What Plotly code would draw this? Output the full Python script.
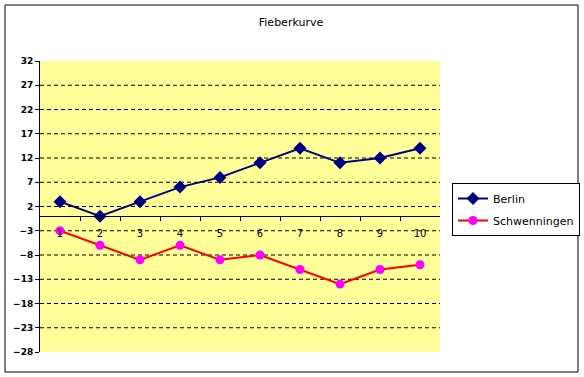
import plotly.graph_objects as go

days = [1, 2, 3, 4, 5, 6, 7, 8, 9, 10]
berlin = [3, 0, 3, 6, 8, 11, 14, 11, 12, 14]
schwenningen = [-3, -6, -9, -6, -9, -8, -11, -14, -11, -10]
y_ticks = [-28, -23, -18, -13, -8, -3, 2, 7, 12, 17, 22, 27, 32]
title = "Fieberkurve"

W, H = 584, 377
L, R, T, B = 40, 144, 61, 25
pw, ph = W - L - R, H - T - B
ymin, ymax = y_ticks[0], y_ticks[-1]

fig = go.Figure()
fig.add_trace(go.Scatter(
    x=days, y=berlin, name="Berlin", mode="lines+markers", legendgroup="a",
    line=dict(color="#000080", width=2),
    marker=dict(symbol="diamond", size=10, color="#000080"),
))
fig.add_trace(go.Scatter(
    x=days, y=schwenningen, name="Schwenningen", mode="lines+markers", legendgroup="b",
    line=dict(color="#FF0000", width=2),
    marker=dict(symbol="circle", size=9, color="#FF00FF"),
))

shapes = []
for v in y_ticks[1:-1]:
    shapes.append(dict(type="line", xref="paper", yref="y", x0=0, x1=1, y0=v, y1=v,
                       line=dict(color="black", width=1, dash="4px,3px"), layer="below"))
# outer chart border
shapes.append(dict(type="rect", xref="paper", yref="paper",
                   x0=(5 - L) / pw, x1=(578 - L) / pw,
                   y0=(H - B - 372) / ph, y1=(H - B - 5) / ph,
                   line=dict(color="black", width=1), fillcolor="rgba(0,0,0,0)"))

fig.update_layout(
    width=W, height=H,
    margin=dict(l=L, r=R, t=T, b=B, pad=0, autoexpand=False),
    paper_bgcolor="white",
    plot_bgcolor="#FFFF99",
    showlegend=True,
    title=dict(text=title, x=(291 - L) / pw, xref="paper", xanchor="center",
               y=1 - 22 / H, yanchor="middle",
               font=dict(family="DejaVu Sans", size=11, color="black")),
    legend=dict(x=(452 - L) / pw, y=(H - B - 183) / ph, xanchor="left", yanchor="top",
                bordercolor="black", borderwidth=1, bgcolor="white",
                font=dict(family="DejaVu Sans", size=11, color="black"),
                tracegroupgap=3, itemwidth=30),
    shapes=shapes,
    xaxis=dict(
        type="linear", range=[0.5, 10.5], tickvals=days, ticktext=[str(d) for d in days],
        showgrid=False, zeroline=False, showline=True, linecolor="black", linewidth=1,
        anchor="free", position=(0 - ymin) / (ymax - ymin),
        ticks="", ticklabelstandoff=8,
        minor=dict(tickvals=[d + 0.5 for d in days[:-1]], ticks="outside", ticklen=4,
                   tickcolor="black", showgrid=False),
        tickfont=dict(family="DejaVu Sans", size=10, color="black"),
        fixedrange=True,
    ),
    yaxis=dict(
        range=[ymin, ymax], tickvals=y_ticks, showgrid=False, zeroline=False,
        showline=True, linecolor="black", linewidth=1,
        ticks="outside", ticklen=4, tickcolor="black",
        tickfont=dict(family="DejaVu Sans", size=9, color="black", weight="bold"),
        fixedrange=True,
    ),
)

fig.write_html("out.html", config={"displayModeBar": False},
               post_script="document.body.style.margin='0';document.body.style.overflow='hidden';")
